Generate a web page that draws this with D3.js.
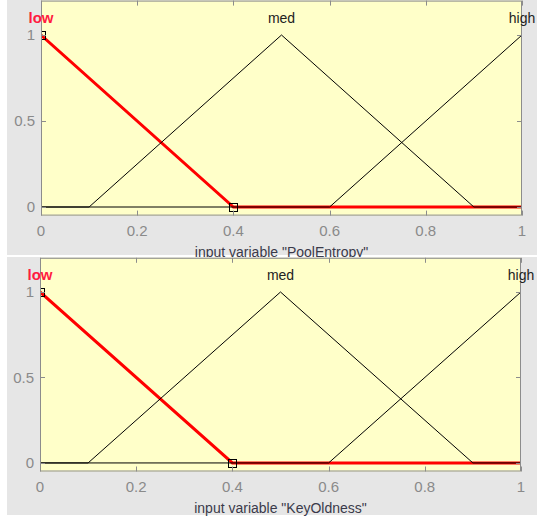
<!DOCTYPE html>
<html>
<head>
<meta charset="utf-8">
<script src="https://cdn.jsdelivr.net/npm/d3@7.9.0/dist/d3.min.js"></script>
<style>
  body { margin: 0; background: #fff; }
  svg { display: block; font-family: "Liberation Sans", Arial, sans-serif; }
</style>
</head>
<body>
<svg width="537" height="518"></svg>
<script>
// data
const variableNames = ["PoolEntropy", "KeyOldness"];
const xTicks = [0, 0.2, 0.4, 0.6, 0.8, 1];
const yTicks = [0, 0.5, 1];
const mfNames = ["low", "med", "high"];
const mfPeaks = [0, 0.5, 1]; // where each label sits
const lowPts = [[0, 1], [0.4, 0], [1, 0]];
const medPts = [[0, 0], [0.1, 0], [0.5, 1], [0.9, 0], [1, 0]];
const highPts = [[0, 0], [0.6, 0], [1, 1]];
const selectedMF = 0; // "low" is highlighted
const selectedVertices = [[0, 1], [0.4, 0]];

const mfPoints = [lowPts, medPts, highPts];

// panel frames (pixels)
const panels = [
  { bg: [7, 0, 530, 255], left: 41, right: 522, top: 0.6, bottom: 215.6 },
  { bg: [7, 257, 530, 258], left: 40, right: 521, top: 257.8, bottom: 471.5 }
];

const svg = d3.select("svg");
const tickColor = "#8a8a8a";

panels.forEach((p, pi) => {
  const g = svg.append("g");

  // gray figure background
  g.append("rect")
    .attr("x", p.bg[0]).attr("y", p.bg[1])
    .attr("width", p.bg[2]).attr("height", p.bg[3])
    .attr("fill", "#e6e6e6");

  const x = d3.scaleLinear().domain([0, 1]).range([p.left, p.right]);
  const y = d3.scaleLinear().domain([-0.05, 1.2]).range([p.bottom, p.top]);

  // axes background
  g.append("rect")
    .attr("x", p.left).attr("y", p.top)
    .attr("width", p.right - p.left).attr("height", p.bottom - p.top)
    .attr("fill", "#ffffc9");

  const clipId = "clip" + pi;
  g.append("clipPath").attr("id", clipId)
    .append("rect")
    .attr("x", p.left).attr("y", p.top)
    .attr("width", p.right - p.left).attr("height", p.bottom - p.top);

  const plot = g.append("g").attr("clip-path", `url(#${clipId})`);
  const line = d3.line().x(d => x(d[0])).y(d => y(d[1]));

  // selected MF first (thick red), others drawn over it
  plot.append("path")
    .attr("d", line(mfPoints[selectedMF]))
    .attr("fill", "none")
    .attr("stroke", "#ff0000")
    .attr("stroke-width", 3);

  mfPoints.forEach((pts, i) => {
    if (i === selectedMF) return;
    plot.append("path")
      .attr("d", line(pts))
      .attr("fill", "none")
      .attr("stroke", "#000")
      .attr("stroke-width", 1);
  });

  // vertex markers
  plot.selectAll("rect.marker")
    .data(selectedVertices)
    .enter()
    .append("rect")
    .attr("class", "marker")
    .attr("x", d => Math.round(x(d[0])) - 4 + 0.5)
    .attr("y", d => Math.round(y(d[1])) - 4 + 0.5)
    .attr("width", 8).attr("height", 8)
    .attr("fill", "none")
    .attr("stroke", "#000")
    .attr("stroke-width", 1);

  // box
  g.append("rect")
    .attr("x", p.left + 0.5).attr("y", p.top + 0.5)
    .attr("width", p.right - p.left - 1).attr("height", p.bottom - p.top - 1)
    .attr("fill", "none")
    .attr("stroke", "#8c8c8c")
    .attr("stroke-width", 1);

  // inward ticks on all four sides
  const tickLen = 5;
  xTicks.forEach(t => {
    const xx = Math.round(x(t)) + 0.5;
    g.append("line").attr("x1", xx).attr("x2", xx)
      .attr("y1", p.bottom).attr("y2", p.bottom - tickLen)
      .attr("stroke", "#8c8c8c");
    g.append("line").attr("x1", xx).attr("x2", xx)
      .attr("y1", p.top).attr("y2", p.top + tickLen)
      .attr("stroke", "#8c8c8c");
  });
  yTicks.forEach(t => {
    const yy = Math.round(y(t)) + 0.5;
    g.append("line").attr("x1", p.left).attr("x2", p.left + tickLen)
      .attr("y1", yy).attr("y2", yy).attr("stroke", "#8c8c8c");
    g.append("line").attr("x1", p.right).attr("x2", p.right - tickLen)
      .attr("y1", yy).attr("y2", yy).attr("stroke", "#8c8c8c");
  });

  // tick labels
  g.selectAll("text.xt")
    .data(xTicks)
    .enter()
    .append("text")
    .attr("class", "xt")
    .attr("x", d => x(d))
    .attr("y", p.bottom + 20)
    .attr("text-anchor", "middle")
    .attr("font-size", 15)
    .attr("fill", tickColor)
    .text(d => d3.format("~g")(d));

  g.selectAll("text.yt")
    .data(yTicks)
    .enter()
    .append("text")
    .attr("class", "yt")
    .attr("x", p.left - 6)
    .attr("y", d => y(d))
    .attr("dy", "0.36em")
    .attr("text-anchor", "end")
    .attr("font-size", 15)
    .attr("fill", tickColor)
    .text(d => d3.format("~g")(d));

  // MF labels
  mfNames.forEach((name, i) => {
    g.append("text")
      .attr("x", x(mfPeaks[i]))
      .attr("y", y(1.1))
      .attr("dy", "0.36em")
      .attr("text-anchor", "middle")
      .attr("font-size", i === selectedMF ? 15 : 14)
      .attr("font-weight", i === selectedMF ? "bold" : "normal")
      .attr("fill", i === selectedMF ? "#ff1a40" : "#222")
      .text(name);
  });

  // x label
  g.append("text")
    .attr("x", (p.left + p.right) / 2)
    .attr("y", p.bottom + 41)
    .attr("text-anchor", "middle")
    .attr("font-size", 14)
    .attr("fill", "#3a3a4a")
    .text(`input variable "${variableNames[pi]}"`);
});
</script>
</body>
</html>
